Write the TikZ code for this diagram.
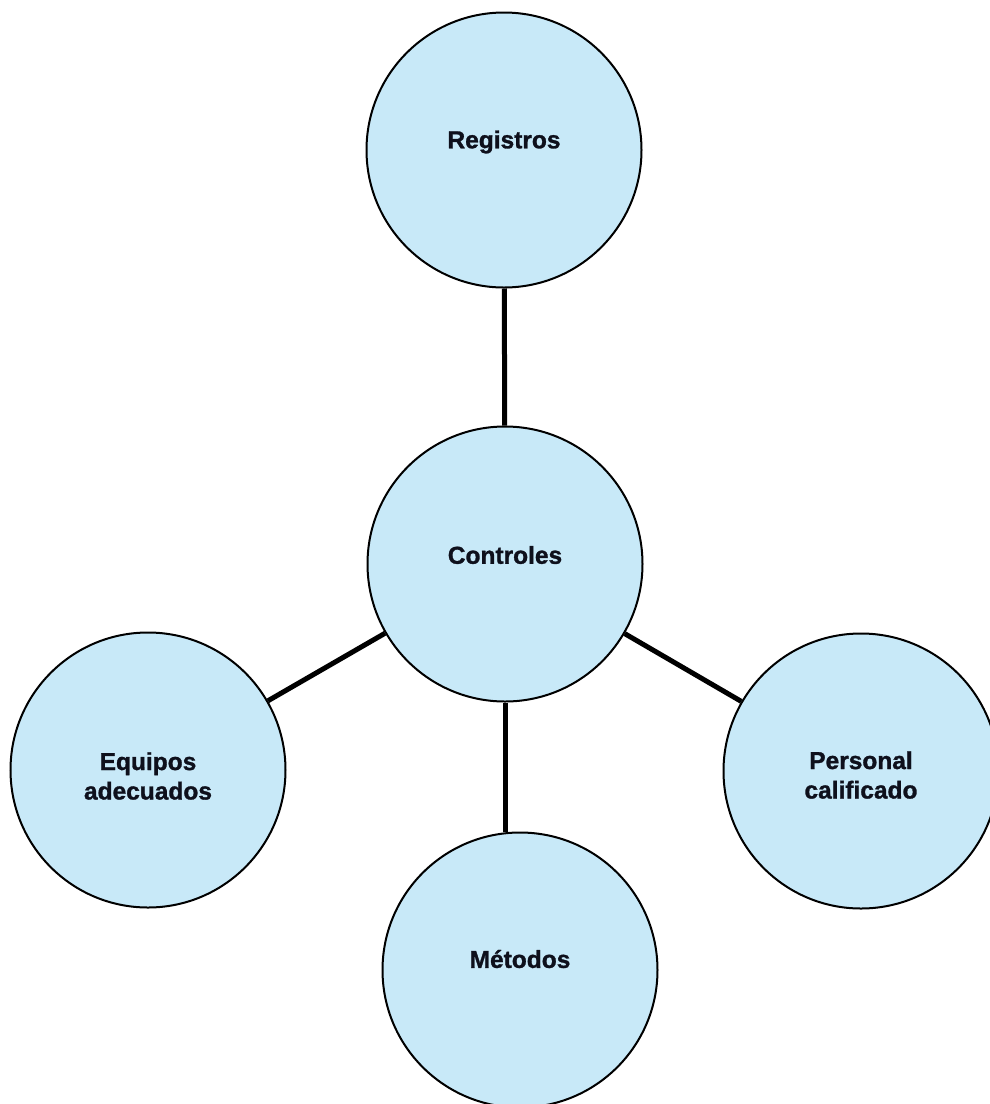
\documentclass[tikz,border=0pt]{standalone}
\usepackage{fontspec}
\setmainfont{Liberation Sans}
\newfontfamily\bubblefont{Liberation Sans Bold}[FakeBold=1.2]
\begin{document}
\definecolor{bubblefill}{RGB}{200,233,248}
\definecolor{labeltext}{RGB}{14,16,28}
\begin{tikzpicture}[x=1pt,y=-1pt,
  bubble/.style={circle, draw=black, line width=2pt, fill=bubblefill,
    minimum size=275pt, inner sep=0pt},
  caption/.style={align=center, text=labeltext, inner sep=0pt,
    font=\fontsize{24.5}{29.5}\selectfont\bubblefont},
  link/.style={draw=black, line width=5pt}]
  \useasboundingbox (0,0) rectangle (989,1104);
  % central concept and the four surrounding bubbles
  \node[bubble] (ctrl) at (505,564) {};
  \node[bubble] (reg)  at (504,150) {};
  \node[bubble] (equ)  at (148,770) {};
  \node[bubble] (per)  at (861,771) {};
  \node[bubble] (met)  at (520,970) {};
  % spokes
  \draw[link] (reg) -- (ctrl);
  \draw[link] (ctrl) -- (equ);
  \draw[link] (ctrl) -- (per);
  \draw[link] (ctrl.south) -- (ctrl.south |- met.north);
  % labels
  \node[caption] (ctrl-t) at ([yshift=9pt]ctrl.center) {Controles};
  \node[caption] (reg-t)  at ([yshift=8pt]reg.center) {Registros};
  \node[caption] (equ-t)  at ([yshift=-6pt]equ.center) {Equipos\\adecuados};
  \node[caption] (per-t)  at ([yshift=-4pt]per.center) {Personal\\calificado};
  \node[caption] (met-t)  at ([yshift=11pt]met.center) {Métodos};
\end{tikzpicture}
\end{document}
